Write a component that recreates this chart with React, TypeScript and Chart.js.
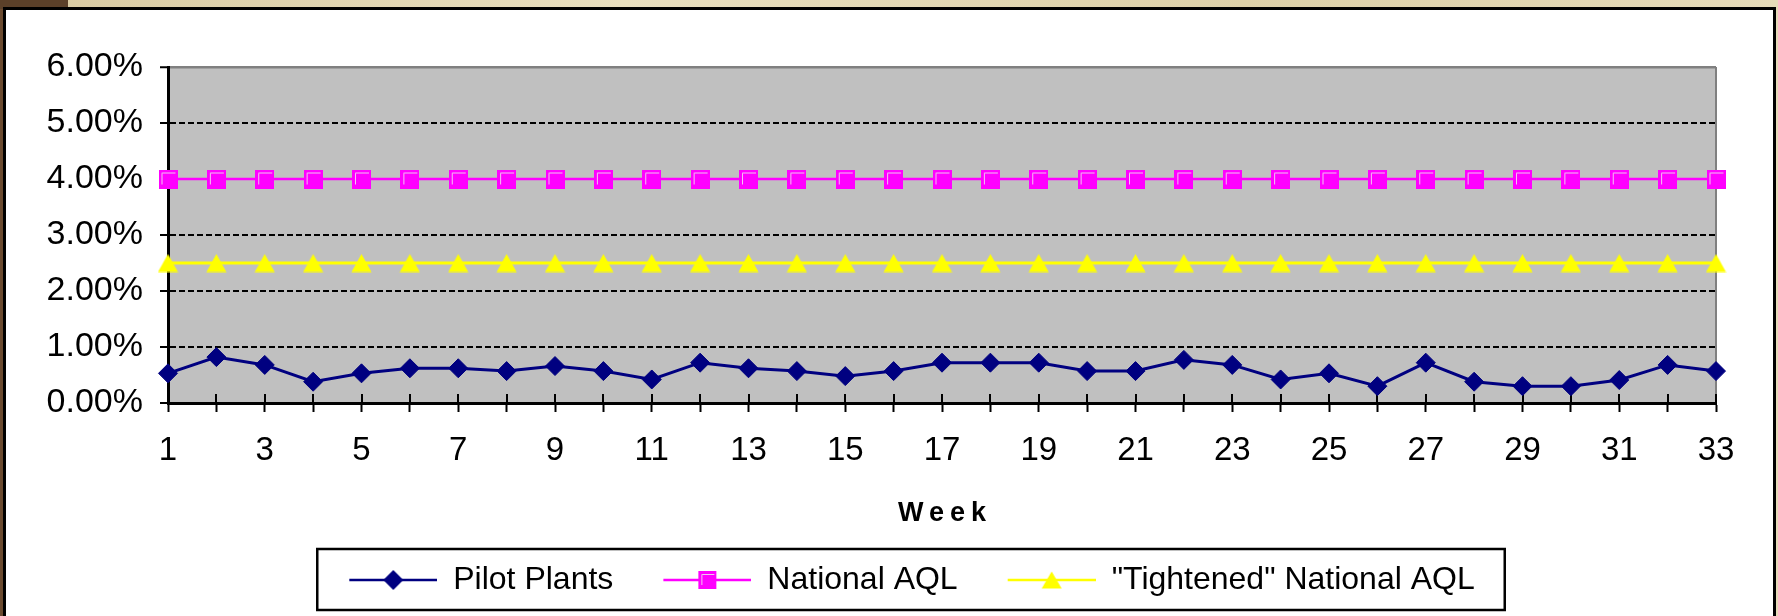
import React, { useEffect, useRef } from 'react';
import { Chart, registerables } from 'chart.js';

Chart.register(...registerables);

// ---------------- DATA ----------------
const weeks = [
  '1', '2', '3', '4', '5', '6', '7', '8', '9', '10', '11',
  '12', '13', '14', '15', '16', '17', '18', '19', '20', '21', '22',
  '23', '24', '25', '26', '27', '28', '29', '30', '31', '32', '33',
];

// values in percent
const pilotPlants = [
  0.53, 0.82, 0.68, 0.38, 0.53, 0.62, 0.62, 0.57, 0.66, 0.57, 0.42,
  0.72, 0.62, 0.57, 0.48, 0.57, 0.72, 0.72, 0.72, 0.57, 0.57, 0.77,
  0.68, 0.42, 0.53, 0.30, 0.72, 0.38, 0.30, 0.30, 0.41, 0.68, 0.57,
];

const nationalAQL = [
  4.0, 4.0, 4.0, 4.0, 4.0, 4.0, 4.0, 4.0, 4.0, 4.0, 4.0,
  4.0, 4.0, 4.0, 4.0, 4.0, 4.0, 4.0, 4.0, 4.0, 4.0, 4.0,
  4.0, 4.0, 4.0, 4.0, 4.0, 4.0, 4.0, 4.0, 4.0, 4.0, 4.0,
];

const tightenedAQL = [
  2.5, 2.5, 2.5, 2.5, 2.5, 2.5, 2.5, 2.5, 2.5, 2.5, 2.5,
  2.5, 2.5, 2.5, 2.5, 2.5, 2.5, 2.5, 2.5, 2.5, 2.5, 2.5,
  2.5, 2.5, 2.5, 2.5, 2.5, 2.5, 2.5, 2.5, 2.5, 2.5, 2.5,
];

const seriesNames = ['Pilot Plants', 'National AQL', '"Tightened" National AQL'];
const axisTitleX = 'Week';
const yMin = 0;
const yMax = 6;
const yStep = 1;

// ---------------- STYLE HELPERS ----------------
const NAVY = '#000080';
const MAGENTA = '#FF00FF';
const YELLOW = '#FFFF00';

function drawDiamond(ctx: CanvasRenderingContext2D, cx: number, cy: number, r: number) {
  ctx.fillStyle = NAVY;
  ctx.beginPath();
  ctx.moveTo(cx - r, cy);
  ctx.lineTo(cx, cy - r);
  ctx.lineTo(cx + r, cy);
  ctx.lineTo(cx, cy + r);
  ctx.closePath();
  ctx.fill();
}

function drawSquare(ctx: CanvasRenderingContext2D, x: number, y: number, s: number) {
  ctx.fillStyle = MAGENTA;
  ctx.fillRect(x, y, s, s);
  ctx.strokeStyle = '#F2C6F2';
  ctx.lineWidth = 1;
  ctx.beginPath();
  ctx.moveTo(x + 3.5, y + s - 4);
  ctx.lineTo(x + 3.5, y + 3.5);
  ctx.lineTo(x + s - 2, y + 3.5);
  ctx.stroke();
}

function drawTriangle(ctx: CanvasRenderingContext2D, cx: number, cy: number, w: number, h: number) {
  ctx.fillStyle = YELLOW;
  ctx.beginPath();
  ctx.moveTo(cx, cy - h / 2);
  ctx.lineTo(cx + w / 2, cy + h / 2);
  ctx.lineTo(cx - w / 2, cy + h / 2);
  ctx.closePath();
  ctx.fill();
}

function makeCanvas(w: number, h: number, draw: (c: CanvasRenderingContext2D) => void) {
  const c = document.createElement('canvas');
  c.width = w;
  c.height = h;
  const ctx = c.getContext('2d')!;
  draw(ctx);
  return c;
}

const squareImg = () => makeCanvas(19, 19, (c) => drawSquare(c, 0, 0, 19));
const triangleImg = () => makeCanvas(21, 19, (c) => drawTriangle(c, 10.5, 9.5, 20, 18));

const LEG_W = 104;
const LEG_H = 24;
const LEG_PAD = 16;
function legendIcon(color: string, marker: (c: CanvasRenderingContext2D, cx: number, cy: number) => void) {
  return makeCanvas(LEG_W, LEG_H, (c) => {
    c.strokeStyle = color;
    c.lineWidth = 2.5;
    c.beginPath();
    c.moveTo(LEG_PAD, LEG_H / 2);
    c.lineTo(LEG_W, LEG_H / 2);
    c.stroke();
    marker(c, LEG_PAD + (LEG_W - LEG_PAD) / 2, LEG_H / 2);
  });
}

// ---------------- PLUGINS ----------------
const LEGEND_SHIFT = 31;

const plotFrame = {
  id: 'plotFrame',
  afterLayout(chart: any) {
    const lg = chart.legend;
    if (lg) {
      lg.left += LEGEND_SHIFT;
      lg.right += LEGEND_SHIFT;
    }
    const xs = chart.scales.x;
    if (xs && !xs.__patched) {
      const orig = xs.drawTitle.bind(xs);
      xs.drawTitle = function () {
        const ctx = chart.ctx;
        ctx.save();
        try {
          (ctx as any).letterSpacing = '6px';
        } catch (e) {
          /* ignore */
        }
        ctx.translate(3, 0);
        orig();
        ctx.restore();
      };
      xs.__patched = true;
    }
  },
  beforeDraw(chart: any) {
    const { ctx, chartArea: a } = chart;
    ctx.save();
    ctx.fillStyle = '#C0C0C0';
    ctx.fillRect(a.left, a.top, a.right - a.left, a.bottom - a.top);
    ctx.restore();
  },
  beforeDatasetsDraw(chart: any) {
    const { ctx, chartArea: a } = chart;
    const xs = chart.scales.x;
    ctx.save();
    // right border
    ctx.strokeStyle = '#808080';
    ctx.lineWidth = 2;
    ctx.beginPath();
    ctx.moveTo(a.right, a.top);
    ctx.lineTo(a.right, a.bottom);
    ctx.stroke();
    // inner part of crossing x ticks
    ctx.strokeStyle = '#000';
    ctx.lineWidth = 2;
    ctx.beginPath();
    xs.ticks.forEach((_t: any, i: number) => {
      const px = Math.round(xs.getPixelForTick(i));
      ctx.moveTo(px, a.bottom);
      ctx.lineTo(px, a.bottom - 9);
    });
    ctx.stroke();
    ctx.restore();
  },
  afterDraw(chart: any) {
    const lg = chart.legend;
    if (!lg || !lg.legendHitBoxes || !lg.legendHitBoxes.length) return;
    const hb = lg.legendHitBoxes;
    const first = hb[0];
    const last = hb[hb.length - 1];
    const cy = first.top + first.height / 2;
    const left = first.left - 16;
    const right = last.left + last.width + 30;
    const { ctx } = chart;
    ctx.save();
    ctx.strokeStyle = '#000';
    ctx.lineWidth = 2.5;
    ctx.strokeRect(left, cy - 31, right - left, 61);
    ctx.restore();
  },
};

export default function App() {
  const ref = useRef<HTMLCanvasElement | null>(null);

  useEffect(() => {
    if (!ref.current) return;
    Chart.defaults.font.family = '"Liberation Sans", Arial, sans-serif';
    Chart.defaults.color = '#000';

    const icons = [
      legendIcon(NAVY, (c, cx, cy) => drawDiamond(c, cx, cy, 10)),
      legendIcon(MAGENTA, (c, cx, cy) => drawSquare(c, cx - 9, cy - 9, 18)),
      legendIcon(YELLOW, (c, cx, cy) => drawTriangle(c, cx, cy, 20, 17)),
    ];

    const chart = new Chart(ref.current, {
      type: 'line',
      data: {
        labels: weeks,
        datasets: [
          {
            label: seriesNames[0],
            data: pilotPlants,
            borderColor: NAVY,
            backgroundColor: NAVY,
            borderWidth: 3,
            pointStyle: 'rectRot',
            pointRadius: 9.5,
            pointBorderWidth: 1,
            pointBorderColor: NAVY,
            pointBackgroundColor: NAVY,
            tension: 0,
            clip: false,
          },
          {
            label: seriesNames[1],
            data: nationalAQL,
            borderColor: MAGENTA,
            backgroundColor: MAGENTA,
            borderWidth: 2.5,
            pointStyle: squareImg(),
            pointRadius: 9,
            tension: 0,
            clip: false,
          },
          {
            label: seriesNames[2],
            data: tightenedAQL,
            borderColor: YELLOW,
            backgroundColor: YELLOW,
            borderWidth: 3,
            pointStyle: triangleImg(),
            pointRadius: 9,
            tension: 0,
            clip: false,
          },
        ],
      },
      options: {
        responsive: false,
        animation: false,
        layout: { padding: { left: 30, right: 62, top: 67, bottom: 10 } },
        plugins: {
          tooltip: { enabled: false },
          legend: {
            position: 'bottom',
            labels: {
              usePointStyle: true,
              pointStyleWidth: LEG_W,
              padding: 34,
              color: '#000',
              font: { size: 32 },
              generateLabels: (ch: any) => {
                const items = (Chart.defaults.plugins.legend.labels as any).generateLabels(ch);
                return items.map((it: any, i: number) => ({ ...it, pointStyle: icons[i], fontColor: '#000' }));
              },
            },
          },
        },
        scales: {
          x: {
            type: 'category',
            offset: false,
            grid: {
              display: true,
              drawOnChartArea: false,
              drawTicks: true,
              tickLength: 9,
              tickWidth: 2,
              tickColor: '#000',
            },
            border: { display: true, color: '#000', width: 3 },
            ticks: {
              autoSkip: false,
              maxRotation: 0,
              minRotation: 0,
              padding: 19,
              color: '#000',
              font: { size: 33 },
              callback: (_v: any, i: number) => (i % 2 === 0 ? weeks[i] : ''),
            },
            title: {
              display: true,
              text: axisTitleX,
              color: '#000',
              font: { size: 27, weight: 'bold' },
              padding: { top: 29, bottom: 0 },
            },
            afterFit: (s: any) => {
              s.height = 127;
            },
          },
          y: {
            min: yMin,
            max: yMax,
            ticks: {
              stepSize: yStep,
              padding: 17,
              color: '#000',
              font: { size: 34 },
              callback: (v: any) => Number(v).toFixed(2) + '%',
            },
            grid: {
              color: (c: any) => (c.tick && c.tick.value === yMax ? '#808080' : '#000'),
              lineWidth: (c: any) => (c.tick && c.tick.value === yMax ? 2.5 : 2),
              drawTicks: true,
              tickLength: 8,
              tickWidth: 2,
              tickColor: '#000',
            },
            border: {
              display: true,
              color: '#000',
              width: 3,
              dash: (c: any) => (c.tick && c.tick.value === yMax ? [] : [6, 3]),
            },
            afterFit: (s: any) => {
              s.width = 138;
            },
          },
        },
      },
      plugins: [plotFrame],
    } as any);

    return () => chart.destroy();
  }, []);

  return (
    <div
      style={{
        position: 'fixed',
        left: 0,
        top: 0,
        width: 1778,
        height: 616,
        overflow: 'hidden',
        background: 'linear-gradient(90deg, #d8c9a0 0%, #e9dfbf 35%, #ddd0a8 70%, #e6dbb9 100%)',
      }}
    >
      <div style={{ position: 'absolute', left: 0, top: 0, width: 5, height: 616, background: '#6a4a2f' }} />
      <div style={{ position: 'absolute', left: 0, top: 0, width: 68, height: 9, background: '#5b4029' }} />
      <div
        style={{
          position: 'absolute',
          left: 3,
          top: 7,
          width: 1773,
          height: 700,
          boxSizing: 'border-box',
          border: '3px solid #000',
          background: '#fff',
        }}
      />
      <canvas
        ref={ref}
        width={1778}
        height={616}
        style={{ position: 'absolute', left: 0, top: 0, width: 1778, height: 616 }}
      />
    </div>
  );
}
